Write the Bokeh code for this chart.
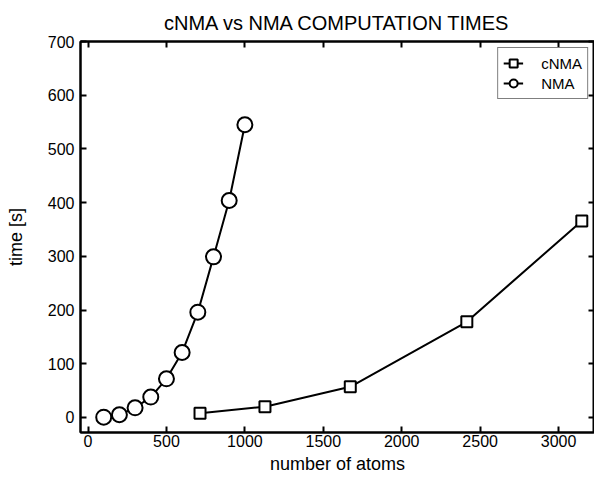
from bokeh.plotting import figure
from bokeh.embed import file_html
from bokeh.resources import INLINE
from bokeh.models import LinearAxis, Range1d, FixedTicker, Legend, LegendItem

nma_atoms = [100, 200, 300, 400, 500, 600, 700, 800, 900, 1000]
nma_time = [0.5, 5, 18, 38, 72, 121, 196, 299, 404, 545]
cnma_atoms = [714, 1128, 1672, 2415, 3148]
cnma_time = [8, 20, 57, 178, 366]
x_ticks = [0, 500, 1000, 1500, 2000, 2500, 3000]
y_ticks = [0, 100, 200, 300, 400, 500, 600, 700]

FONT = "Liberation Sans"

p = figure(width=594, height=478, output_backend="svg", toolbar_location=None,
           x_range=Range1d(-48, 3229), y_range=Range1d(-28, 700),
           min_border_left=80, min_border_right=0, min_border_top=41, min_border_bottom=46,
           title="cNMA vs NMA COMPUTATION TIMES")
p.title.text_font = FONT
p.title.text_font_size = "20px"
p.title.text_font_style = "normal"
p.title.align = "center"
p.title.text_color = "black"
p.title.standoff = 15

p.grid.visible = False
p.outline_line_color = "black"
p.outline_line_width = 2
p.background_fill_color = "white"

def style_axis(ax, labels=True):
    ax.axis_line_color = "black"
    ax.axis_line_width = 2
    ax.major_tick_in = 6
    ax.major_tick_out = 0
    ax.major_tick_line_width = 2
    ax.minor_tick_line_color = None
    ax.major_label_text_font = FONT
    ax.major_label_text_font_size = "16px"
    ax.major_label_text_color = "black"
    ax.axis_label_text_font = FONT
    ax.axis_label_text_font_size = "18px"
    ax.axis_label_text_font_style = "normal"
    ax.axis_label_text_color = "black"
    if not labels:
        ax.major_label_text_font_size = "0px"
        ax.major_label_standoff = 0

p.xaxis.ticker = FixedTicker(ticks=x_ticks)
p.yaxis.ticker = FixedTicker(ticks=y_ticks)
p.xaxis.axis_label = "number of atoms"
p.yaxis.axis_label = "time [s]"
style_axis(p.xaxis[0])
style_axis(p.yaxis[0])
p.xaxis.major_label_standoff = 2
p.xaxis.axis_label_standoff = 4
p.yaxis.major_label_standoff = 6
p.yaxis.axis_label_standoff = 19

top = LinearAxis(ticker=FixedTicker(ticks=x_ticks))
style_axis(top, labels=False)
top.major_label_overrides = {t: "" for t in x_ticks}
p.add_layout(top, "above")
right = LinearAxis(ticker=FixedTicker(ticks=y_ticks))
style_axis(right, labels=False)
right.major_label_overrides = {t: "" for t in y_ticks}
p.add_layout(right, "right")

l1 = p.line(cnma_atoms, cnma_time, line_color="black", line_width=2)
m1 = p.scatter(cnma_atoms, cnma_time, marker="square", size=11, fill_color="white",
               line_color="black", line_width=2)
l2 = p.line(nma_atoms, nma_time, line_color="black", line_width=2)
m2 = p.scatter(nma_atoms, nma_time, marker="circle", size=15, fill_color="white",
               line_color="black", line_width=2)

legend = Legend(items=[LegendItem(label="cNMA", renderers=[l1, m1]),
                       LegendItem(label="NMA", renderers=[l2, m2])],
                location="top_right")
legend.label_text_font = FONT
legend.label_text_font_size = "15px"
legend.label_text_color = "black"
legend.border_line_color = "black"
legend.border_line_width = 1
legend.padding = 5
legend.spacing = 0
legend.margin = 6
legend.glyph_width = 20
legend.label_standoff = 18
p.add_layout(legend)

open("out.html", "w").write(file_html(p, INLINE))
